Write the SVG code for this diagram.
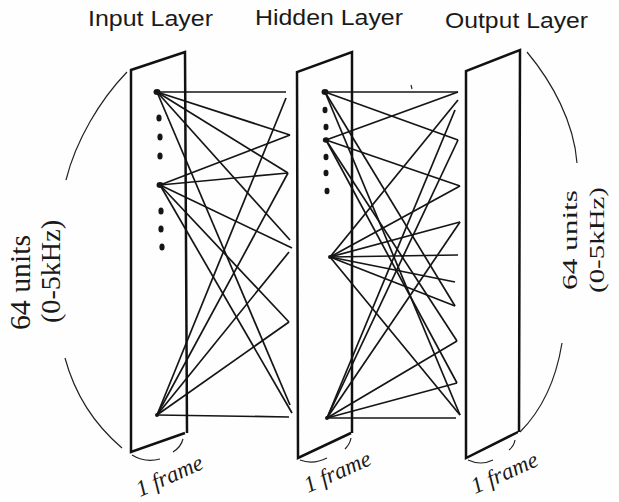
<svg xmlns="http://www.w3.org/2000/svg" width="619" height="502" viewBox="0 0 619 502">
  <style>
    .title { font-family: "Liberation Sans", Arial, sans-serif; font-size: 22px; fill: #1a1a1a; }
    .units { font-family: "Liberation Serif", "Times New Roman", serif; fill: #1a1a1a; }
    .frame { font-family: "Liberation Serif", "Times New Roman", serif; font-style: italic; font-size: 23px; fill: #1a1a1a; }
    .panel { fill: none; stroke: #111; stroke-width: 2.5; stroke-linejoin: miter; }
    .tick { fill: none; stroke: #222; stroke-width: 1.2; }
    .brace { fill: none; stroke: #222; stroke-width: 1.2; }
    .link { stroke: #151515; stroke-width: 1.7; fill: none; }
    .node { fill: #151515; }
  </style>
  <rect width="619" height="502" fill="#fefefe"/>

  <!-- layer titles -->
  <text class="title" x="88" y="26" textLength="125" lengthAdjust="spacingAndGlyphs">Input Layer</text>
  <text class="title" x="255" y="25" textLength="148" lengthAdjust="spacingAndGlyphs">Hidden Layer</text>
  <text class="title" x="445" y="28" textLength="143" lengthAdjust="spacingAndGlyphs">Output Layer</text>

  <!-- 64-unit span arcs and labels -->
  <g id="left-span">
    <path class="brace" d="M127,72 C100,100 76,140 66,180"/>
    <path class="brace" d="M65,358 C75,395 95,425 122,448"/>
    <text class="units" font-size="29" transform="translate(30,330) rotate(-90)" textLength="95" lengthAdjust="spacingAndGlyphs">64 units</text>
    <text class="units" font-size="27" transform="translate(60,323) rotate(-90)" textLength="103" lengthAdjust="spacingAndGlyphs">(0-5kHz)</text>
  </g>
  <g id="right-span">
    <path class="brace" d="M527,52 C552,82 574,122 577,163"/>
    <path class="brace" d="M562,343 C556,380 542,410 520,432"/>
    <text class="units" font-size="22" transform="translate(577,290) rotate(-90)" textLength="100" lengthAdjust="spacingAndGlyphs">64 units</text>
    <text class="units" font-size="21" transform="translate(604,293) rotate(-90)" textLength="106" lengthAdjust="spacingAndGlyphs">(0-5kHz)</text>
  </g>

  <!-- connections -->
  <g id="connectors">
    <!-- input -> hidden -->
    <line class="link" x1="157" y1="92" x2="286" y2="92"/>
    <line class="link" x1="157" y1="92" x2="290" y2="135"/>
    <line class="link" x1="157" y1="92" x2="288" y2="173"/>
    <line class="link" x1="157" y1="92" x2="290" y2="240"/>
    <line class="link" x1="157" y1="92" x2="290" y2="405"/>
    <line class="link" x1="160" y1="185" x2="290" y2="135"/>
    <line class="link" x1="160" y1="185" x2="288" y2="173"/>
    <line class="link" x1="160" y1="185" x2="292" y2="248"/>
    <line class="link" x1="160" y1="185" x2="289" y2="322"/>
    <line class="link" x1="160" y1="185" x2="292" y2="413"/>
    <line class="link" x1="157" y1="415" x2="289" y2="417"/>
    <line class="link" x1="157" y1="415" x2="289" y2="322"/>
    <line class="link" x1="157" y1="415" x2="289" y2="252"/>
    <line class="link" x1="157" y1="415" x2="288" y2="173"/>
    <line class="link" x1="157" y1="415" x2="286" y2="98"/>
    <!-- hidden -> output -->
    <line class="link" x1="325" y1="92" x2="458" y2="92"/>
    <line class="link" x1="325" y1="92" x2="458" y2="140"/>
    <line class="link" x1="325" y1="92" x2="455" y2="306"/>
    <line class="link" x1="325" y1="92" x2="460" y2="415"/>
    <line class="link" x1="326" y1="140" x2="458" y2="92"/>
    <line class="link" x1="326" y1="140" x2="460" y2="186"/>
    <line class="link" x1="326" y1="140" x2="457" y2="341"/>
    <line class="link" x1="326" y1="140" x2="457" y2="383"/>
    <line class="link" x1="330" y1="257" x2="458" y2="100"/>
    <line class="link" x1="330" y1="257" x2="460" y2="186"/>
    <line class="link" x1="330" y1="257" x2="460" y2="222"/>
    <line class="link" x1="330" y1="257" x2="458" y2="255"/>
    <line class="link" x1="330" y1="257" x2="455" y2="282"/>
    <line class="link" x1="330" y1="257" x2="455" y2="306"/>
    <line class="link" x1="330" y1="257" x2="460" y2="415"/>
    <line class="link" x1="327" y1="418" x2="456" y2="418"/>
    <line class="link" x1="327" y1="418" x2="457" y2="383"/>
    <line class="link" x1="327" y1="418" x2="457" y2="341"/>
    <line class="link" x1="327" y1="418" x2="460" y2="222"/>
    <line class="link" x1="327" y1="418" x2="455" y2="110"/>
    <line class="link" x1="327" y1="418" x2="458" y2="140"/>
    <path class="tick" d="M411,85 L412,89"/>
  </g>

  <!-- input layer frame -->
  <g id="input-layer">
    <path class="panel" d="M185,433 L131,452 L131,70 L185,52 L187,433"/>
    <path class="tick" d="M132,455 Q145,463 160,459"/>
    <path class="tick" d="M183,439 Q181,447 173,452"/>
    <ellipse class="node" cx="157" cy="92" rx="3.5" ry="3"/>
    <ellipse class="node" cx="159" cy="118" rx="2.6" ry="3.5"/>
    <ellipse class="node" cx="160" cy="137" rx="2.6" ry="3.5"/>
    <ellipse class="node" cx="160" cy="156" rx="2.6" ry="3.5"/>
    <ellipse class="node" cx="160" cy="185" rx="3.5" ry="3"/>
    <ellipse class="node" cx="161" cy="211" rx="2.6" ry="3.5"/>
    <ellipse class="node" cx="161" cy="229" rx="2.6" ry="3.5"/>
    <ellipse class="node" cx="162" cy="247" rx="2.6" ry="3.5"/>
    <ellipse class="node" cx="157" cy="415" rx="2" ry="2"/>
    <text class="frame" transform="translate(140,497) rotate(-24)">1 frame</text>
  </g>

  <!-- hidden layer frame -->
  <g id="hidden-layer">
    <path class="panel" d="M351,433 L298,458 L297,72 L352,52 L352,433"/>
    <path class="tick" d="M300,460 Q313,465 327,458"/>
    <path class="tick" d="M351,438 Q350,444 345,449"/>
    <ellipse class="node" cx="325" cy="92" rx="3.5" ry="3"/>
    <ellipse class="node" cx="325" cy="110" rx="2.5" ry="3.2"/>
    <ellipse class="node" cx="326" cy="127" rx="2.5" ry="3.2"/>
    <ellipse class="node" cx="326" cy="140" rx="3.2" ry="2.8"/>
    <ellipse class="node" cx="326" cy="157" rx="2.5" ry="3.2"/>
    <ellipse class="node" cx="326" cy="173" rx="2.5" ry="3.2"/>
    <ellipse class="node" cx="327" cy="191" rx="2.5" ry="3.2"/>
    <ellipse class="node" cx="330" cy="257" rx="2" ry="2"/>
    <ellipse class="node" cx="327" cy="418" rx="2" ry="2"/>
    <text class="frame" transform="translate(308,493) rotate(-24)">1 frame</text>
  </g>

  <!-- output layer frame -->
  <g id="output-layer">
    <path class="panel" d="M518,432 L466,458 L466,71 L520,50 L519,432"/>
    <path class="tick" d="M468,460 Q481,466 493,460"/>
    <path class="tick" d="M515,440 Q514,446 509,450"/>
    <text class="frame" transform="translate(475,494) rotate(-24)">1 frame</text>
  </g>
</svg>
